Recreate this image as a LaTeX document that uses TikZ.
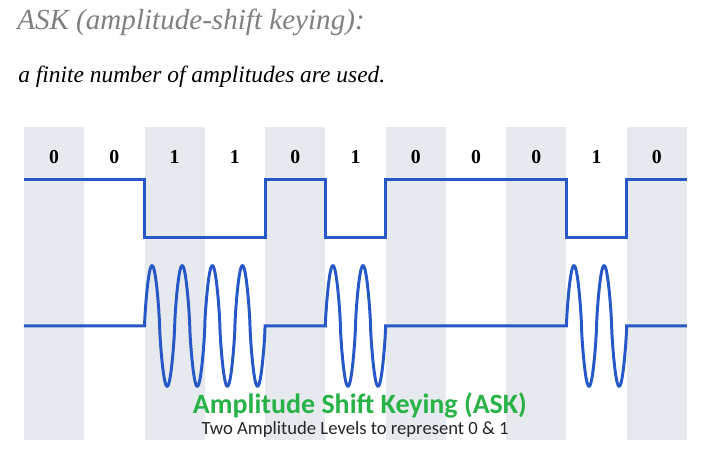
\documentclass[tikz,border=0pt]{standalone}
\usepackage{fontspec}
\setmainfont{Liberation Serif}
\newfontfamily\calibri{Carlito}
\usetikzlibrary{calc}

\definecolor{sigblue}{RGB}{38,88,200}
\definecolor{stripegrey}{RGB}{230,233,237}
\definecolor{titlegreen}{RGB}{40,178,72}
\definecolor{headgrey}{RGB}{128,128,128}

\begin{document}
\begin{tikzpicture}[none/.style={},
      stripe/.style={fill=stripegrey, draw=none},
      bit/.style={font={\fontsize{14}{16}\selectfont\bfseries}},
      signal/.style={draw=sigblue, line width=2.1, line join=miter},
      head/.style={anchor=base west, inner sep=0, text=headgrey, font={\fontsize{20.6}{24}\selectfont\itshape}},
      note/.style={anchor=base west, inner sep=0, font={\fontsize{16.6}{19}\selectfont\itshape}},
      caption/.style={anchor=base, inner sep=0, text=titlegreen, font={\calibri\fontsize{19.8}{23}\selectfont\bfseries}},
      subcaption/.style={anchor=base, inner sep=0, text=black!85, font={\calibri\fontsize{13.2}{16}\selectfont}},
      declare function={lobe(\t)=1.5*sign(sin(\t))*abs(sin(\t))^0.75;}
    ]
    \useasboundingbox[fill=white] (-0.597, -3.435) rectangle (17.223, 8.113);

    % heading
    \node [head] (h1) at (-0.174, 7.37) {ASK (amplitude-shift keying):};
    \node [note] (h2) at (-0.149, 6.07) {a finite number of amplitudes are used.};

    % grey bit cells
    \fill[stripe] (0, -2.85) rectangle (1.5, 4.95);
    \fill[stripe] (3, -2.85) rectangle (4.5, 4.95);
    \fill[stripe] (6, -2.85) rectangle (7.5, 4.95);
    \fill[stripe] (9, -2.85) rectangle (10.5, 4.95);
    \fill[stripe] (12, -2.85) rectangle (13.5, 4.95);
    \fill[stripe] (15, -2.85) rectangle (16.5, 4.95);

    % bits
    \node [bit] (b0) at (0.75, 4.2) {0};
    \node [bit] (b1) at (2.25, 4.2) {0};
    \node [bit] (b2) at (3.75, 4.2) {1};
    \node [bit] (b3) at (5.25, 4.2) {1};
    \node [bit] (b4) at (6.75, 4.2) {0};
    \node [bit] (b5) at (8.25, 4.2) {1};
    \node [bit] (b6) at (9.75, 4.2) {0};
    \node [bit] (b7) at (11.25, 4.2) {0};
    \node [bit] (b8) at (12.75, 4.2) {0};
    \node [bit] (b9) at (14.25, 4.2) {1};
    \node [bit] (b10) at (15.75, 4.2) {0};

    % data signal
    \node [none] (0) at (0, 3.65) {};
    \node [none] (1) at (3, 3.65) {};
    \node [none] (2) at (3, 2.2) {};
    \node [none] (3) at (6, 2.2) {};
    \node [none] (4) at (6, 3.65) {};
    \node [none] (5) at (7.5, 3.65) {};
    \node [none] (6) at (7.5, 2.2) {};
    \node [none] (7) at (9, 2.2) {};
    \node [none] (8) at (9, 3.65) {};
    \node [none] (9) at (13.5, 3.65) {};
    \node [none] (10) at (13.5, 2.2) {};
    \node [none] (11) at (15, 2.2) {};
    \node [none] (12) at (15, 3.65) {};
    \node [none] (13) at (16.5, 3.65) {};
    \draw[signal] (0.center) to (1.center) to (2.center) to (3.center) to (4.center)
        to (5.center) to (6.center) to (7.center) to (8.center) to (9.center)
        to (10.center) to (11.center) to (12.center) to (13.center);

    % ASK signal
    \node [none] (20) at (0, 0) {};
    \node [none] (21) at (3, 0) {};
    \node [none] (22) at (6, 0) {};
    \node [none] (23) at (7.5, 0) {};
    \node [none] (24) at (9, 0) {};
    \node [none] (25) at (13.5, 0) {};
    \node [none] (26) at (15, 0) {};
    \node [none] (27) at (16.5, 0) {};
    \draw[signal] (20.center) to (21.center)
        -- plot[domain=3:6, samples=481] (\x, {lobe(480*(\x-3))})
        -- (22.center) to (23.center)
        -- plot[domain=7.5:9, samples=241] (\x, {lobe(480*(\x-7.5))})
        -- (24.center) to (25.center)
        -- plot[domain=13.5:15, samples=241] (\x, {lobe(480*(\x-13.5))})
        -- (26.center) to (27.center);

    % caption
    \node [caption] (t1) at (8.36, -2.17) {Amplitude Shift Keying (ASK)};
    \node [subcaption] (t2) at (8.24, -2.71) {Two Amplitude Levels to represent 0 \& 1};
\end{tikzpicture}
\end{document}
